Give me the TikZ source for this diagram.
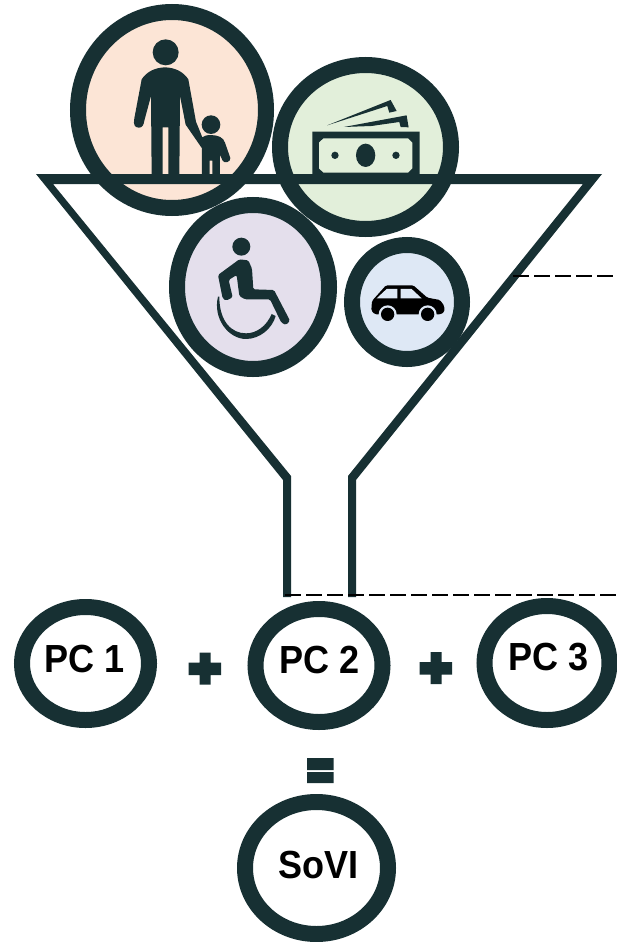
\documentclass[tikz,border=0pt]{standalone}
\usepackage{fontspec}
\usepackage{graphicx}
\setmainfont{Liberation Sans}
\usetikzlibrary{shapes.geometric}
\definecolor{ink}{HTML}{173033}
\definecolor{peach}{HTML}{FCE5D6}
\definecolor{sage}{HTML}{E2EFDA}
\definecolor{lilac}{HTML}{E4DFEC}
\definecolor{sky}{HTML}{DEE8F5}
\newcommand{\tallbold}[1]{\scalebox{1.03}[1.12]{#1}}
\tikzset{
  ring/.style={ellipse,draw=ink,line width=16pt,inner sep=0pt,outer sep=0pt},
  lbl/.style={font=\fontsize{35}{35}\selectfont\bfseries,text=black,inner sep=0pt},
  dashline/.style={draw=black,line width=1.6pt,dash pattern=on 15.5pt off 5.5pt},
  icon/.style={fill=ink,draw=none}
}
\begin{document}
\begin{tikzpicture}[x=1pt,y=-1pt]
\useasboundingbox (0,0) rectangle (616,942);
\fill[white] (0,0) rectangle (616,942);
% top rings
\node[ring,fill=peach,minimum width=188pt,minimum height=196pt] (family) at (172,110) {};
\node[ring,fill=sage,minimum width=171pt,minimum height=164pt] (money) at (365.5,147) {};
\node[ring,fill=lilac,minimum width=152pt,minimum height=164pt] (wheel) at (253,287) {};
\node[ring,fill=sky,minimum width=110pt,minimum height=114pt] (car) at (407,302) {};
% person icon
\begin{scope}[shift={(125,30)},x=0.3333pt,y=-0.3333pt]
\fill[icon] (122,67) circle (39);
\fill[icon] (120,112) .. controls (90,113) and (65,125) .. (50,148)
 -- (28,265) .. controls (24,285) and (30,293) .. (42,293) .. controls (52,293) and (56,285) .. (58,272)
 -- (78,198) -- (80,440) -- (113,440) -- (113,292) -- (130,292) -- (130,440) -- (163,440) -- (165,198)
 -- (182,284) -- (231,355) -- (231,440) -- (254,440) -- (254,392) -- (262,392) -- (262,440) -- (285,440)
 -- (285,375) -- (293,392) .. controls (298,402) and (318,396) .. (316,384) -- (300,338) .. controls (295,322) and (280,316) .. (258,315)
 .. controls (245,315) and (237,318) .. (232,322) -- (213,275) -- (190,148) .. controls (175,125) and (150,113) .. (120,112) -- cycle;
\fill[icon] (258,284) circle (28);
\end{scope}
% money icon
\begin{scope}[shift={(60,0)},x=0.3333pt,y=-0.3333pt]
\fill[icon,even odd rule] (757,395) rectangle (1079,530)
 (790,415) -- (1045,415) -- (1057,427) -- (1057,506) -- (1045,518) -- (790,518) -- (777,506) -- (777,427) -- cycle;
\fill[icon] (917,466) ellipse (29 and 35);
\fill[icon] (825,466) circle (11);
\fill[icon] (1008,466) circle (11);
\fill[icon] (802,376) -- (992,300) -- (1010,333) -- (988,338) -- (982,318) -- cycle;
\fill[icon] (852,381) -- (1040,346) -- (1046,382) -- (1022,381) -- (1018,366) -- (935,378) -- cycle;
\end{scope}
% wheelchair icon
\begin{scope}[shift={(160,190)},x=0.3333pt,y=-0.3333pt]
\fill[icon] (244,170) circle (27);
\fill[icon,rounded corners=1.5pt] (174,255) -- (238,208) -- (265,211) -- (276,236) -- (280,298) -- (342,300) -- (390,392) -- (378,405) -- (364,398) -- (330,328) -- (255,328) -- (238,318) -- (230,255) -- (206,270) -- (218,322) -- (198,332) -- (188,325) -- cycle;
\fill[icon] (174,320) .. controls (158,385) and (205,447) .. (258,447) .. controls (300,447) and (337,415) .. (347,378) -- (335,372) .. controls (320,408) and (290,430) .. (258,430) .. controls (215,430) and (178,395) .. (178,320) -- cycle;
\end{scope}
% car icon
\begin{scope}[shift={(160,190)},x=0.3333pt,y=-0.3333pt]
\fill[black,rounded corners=1.5pt] (634,362) -- (636,333) -- (678,286) -- (760,286) -- (802,323) -- (840,330) -- (853,348) -- (853,366) -- (842,373) -- (645,373) -- cycle;
\fill[sky] (650,325) -- (680,297) -- (712,297) -- (712,325) -- cycle;
\fill[sky] (722,297) -- (755,297) -- (785,325) -- (722,325) -- cycle;
\fill[sky] (683,373) circle (27);
\fill[sky] (803,373) circle (27);
\fill[black] (683,373) circle (20);
\fill[black] (803,373) circle (20);
\end{scope}
% funnel
\fill[ink,even odd rule] (36,174) -- (602,174) -- (356,480) -- (356,597) -- (348,597) -- (348,476) -- (583,184) -- (53,184) -- (291,476) -- (291,597) -- (283,597) -- (283,480) -- cycle;
% dashed leaders
\coordinate (funnelside) at (513,276);
\coordinate (edgeA) at (616,276);
\coordinate (stem) at (285,595);
\coordinate (edgeB) at (616,595);
\draw[dashline] (funnelside) -- (edgeA);
\draw[dashline] (stem) -- (edgeB);
% PC rings
\node[ring,minimum width=127pt,minimum height=113pt] (pc1) at (85.5,663.5) {};
\node[ring,minimum width=127pt,minimum height=113pt] (pc2) at (319,665.5) {};
\node[ring,minimum width=125pt,minimum height=114pt] (pc3) at (547,663) {};
\node[ring,minimum width=143pt,minimum height=132pt] (sovi) at (316.5,868) {};
\node[lbl] (t1) at (85,658.5) {\tallbold{PC 1}};
\node[lbl] (t2) at (320,660) {\tallbold{PC 2}};
\node[lbl] (t3) at (549,657.5) {\tallbold{PC 3}};
\node[lbl] (t4) at (318.5,865) {\tallbold{SoVI}};
% plus and equals
\fill[ink] (199.5,652.5) rectangle (210.5,684.5) (188.5,662.5) rectangle (221,675);
\fill[ink] (430.5,652) rectangle (441.5,684) (419.5,662) rectangle (452,674.5);
\fill[ink] (307,758) rectangle (333.5,770) (307,772) rectangle (333.5,783);
\end{tikzpicture}
\end{document}
